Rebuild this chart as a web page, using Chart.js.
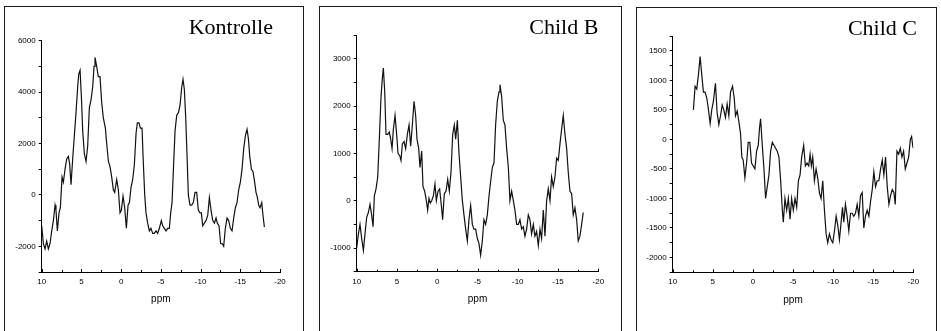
<!DOCTYPE html>
<html><head><meta charset="utf-8">
<script src="https://cdn.jsdelivr.net/npm/chart.js@4.4.0/dist/chart.umd.min.js"></script>
<style>
html,body{margin:0;padding:0;background:#fff;width:941px;height:331px;overflow:hidden;}
.panel{position:absolute;border:1px solid #1a1a1a;box-sizing:content-box;overflow:hidden;}
.panel canvas{position:absolute;left:0;top:0;}
</style></head><body>
<div class="panel" style="left:4px;top:6px;width:298px;height:340px"><canvas id="c1" width="298" height="324"></canvas></div>
<div class="panel" style="left:319px;top:6px;width:301px;height:340px"><canvas id="c2" width="301" height="324"></canvas></div>
<div class="panel" style="left:636px;top:7px;width:299px;height:340px"><canvas id="c3" width="299" height="324"></canvas></div>
<script>
// ---------- data ----------
const xTickLabels = [10, 5, 0, -5, -10, -15, -20];
const xAxisTitle = 'ppm';

const kontrolleTitle = 'Kontrolle';
const kontrolleYLabels = [6000, 4000, 2000, 0, -2000];
const kontrollePpm = [10.0, 9.79, 9.58, 9.37, 9.16, 8.95, 8.74, 8.53, 8.32, 8.2,
  8.03, 7.82, 7.65, 7.44, 7.27, 7.06, 6.85, 6.64, 6.48, 6.31,
  6.1, 5.89, 5.68, 5.47, 5.34, 5.17, 5.0, 4.84, 4.63, 4.42,
  4.21, 4.0, 3.79, 3.58, 3.41, 3.29, 3.08, 2.87, 2.66, 2.45,
  2.24, 1.98, 1.82, 1.6, 1.4, 1.19, 0.98, 0.81, 0.56, 0.35,
  0.14, -0.03, -0.24, -0.45, -0.66, -0.87, -1.04, -1.25, -1.46, -1.67,
  -1.88, -2.04, -2.25, -2.42, -2.63, -2.8, -2.97, -3.13, -3.34, -3.55,
  -3.76, -3.97, -4.18, -4.39, -4.6, -4.81, -5.06, -5.23, -5.44, -5.65,
  -5.86, -6.07, -6.24, -6.41, -6.58, -6.79, -7.0, -7.21, -7.42, -7.63,
  -7.79, -7.96, -8.13, -8.3, -8.46, -8.67, -8.88, -9.09, -9.3, -9.51,
  -9.72, -9.93, -10.1, -10.27, -10.48, -10.69, -10.9, -11.11, -11.32, -11.53,
  -11.74, -11.95, -12.11, -12.32, -12.53, -12.74, -12.91, -13.12, -13.33, -13.54,
  -13.75, -13.96, -14.17, -14.38, -14.59, -14.8, -15.01, -15.22, -15.43, -15.64,
  -15.85, -16.02, -16.19, -16.4, -16.6, -16.81, -16.98, -17.15, -17.32, -17.49,
  -17.7, -17.86, -18.03];
const kontrolleValues = [-1200, -1900, -2100, -1800, -2100, -1900, -1400, -1000, -400, -600,
  -1400, -700, -500, 700, 500, 1000, 1400, 1500, 1200, 400,
  1400, 2300, 3200, 4200, 4700, 4850, 3800, 2500, 1600, 1300,
  1900, 3400, 3700, 4200, 5000, 5350, 5000, 4600, 4600, 3600,
  3000, 2600, 2000, 1300, 1100, 700, 200, 100, 600, 200,
  -700, -600, -50, -500, -1300, -400, -300, 300, 600, 1200,
  2400, 2800, 2800, 2600, 2600, 1200, 0, -700, -1100, -1400,
  -1300, -1500, -1500, -1400, -1500, -1300, -1000, -1200, -1300, -1400,
  -1300, -1300, -700, -300, 1000, 2500, 3100, 3200, 3500, 4200,
  4500, 4100, 3000, 1500, 0, -400, -400, -300, 100, 100,
  -600, -700, -700, -1200, -1100, -1000, -800, -100, -600, -1000,
  -1100, -900, -1100, -1200, -1900, -1900, -2000, -1300, -900, -1000,
  -1300, -1400, -900, -500, -300, 200, 500, 1000, 1800, 2300,
  2550, 2200, 1500, 1000, 900, 500, 100, -100, -400, -500,
  -300, -800, -1250];

const childBTitle = 'Child B';
const childBYLabels = [3000, 2000, 1000, 0, -1000];
const childBPpm = [10, 9.79, 9.59, 9.38, 9.17, 8.97, 8.76, 8.55, 8.35, 8.14,
  7.97, 7.81, 7.6, 7.39, 7.19, 6.98, 6.81, 6.69, 6.52, 6.36,
  6.15, 5.95, 5.78, 5.61, 5.45, 5.24, 5.04, 4.87, 4.66, 4.5,
  4.33, 4.12, 3.92, 3.71, 3.5, 3.3, 3.09, 2.88, 2.68, 2.51,
  2.3, 2.14, 1.93, 1.77, 1.56, 1.35, 1.19, 1.02, 0.86, 0.69,
  0.48, 0.28, 0.11, -0.1, -0.3, -0.51, -0.67, -0.88, -1.09, -1.3,
  -1.5, -1.71, -1.92, -2.12, -2.29, -2.5, -2.7, -2.91, -3.12, -3.32,
  -3.53, -3.74, -3.94, -4.15, -4.36, -4.56, -4.77, -4.98, -5.18, -5.39,
  -5.6, -5.8, -6.01, -6.22, -6.43, -6.63, -6.84, -7.05, -7.25, -7.46,
  -7.67, -7.79, -8.0, -8.2, -8.41, -8.62, -8.83, -9.03, -9.24, -9.45,
  -9.65, -9.86, -10.07, -10.27, -10.48, -10.69, -10.89, -11.1, -11.31, -11.51,
  -11.72, -11.93, -12.13, -12.34, -12.55, -12.76, -12.96, -13.17, -13.38, -13.58,
  -13.79, -14.0, -14.2, -14.41, -14.62, -14.82, -15.03, -15.24, -15.44, -15.65,
  -15.86, -16.07, -16.27, -16.48, -16.69, -16.89, -17.1, -17.31, -17.51, -17.72,
  -17.93, -18.13];
const childBValues = [-1000, -700, -500, -800, -1050, -700, -350, -250, -80, -300,
  -550, 100, 250, 500, 1300, 2200, 2600, 2800, 2300, 1400,
  1400, 1450, 1300, 1100, 1500, 1800, 1400, 1000, 950, 850,
  1200, 1250, 1100, 1400, 1600, 1150, 1600, 2100, 1800, 1300,
  1100, 700, 1050, 300, 200, 0, -200, 50, -50, 0,
  100, 350, 0, 200, 250, -100, -400, 150, 200, 450,
  200, 600, 1400, 1600, 1300, 1700, 1000, 500, 0, -300,
  -600, -850, -400, -100, -500, -600, -600, -800, -900, -1150,
  -850, -400, -500, -300, 100, 400, 700, 800, 1600, 2100,
  2300, 2450, 2200, 1700, 1600, 1100, 700, 0, 200, 0,
  -200, -500, -500, -400, -600, -550, -750, -600, -300, -400,
  -700, -500, -750, -650, -950, -600, -800, -200, -750, 0,
  250, 0, 500, 300, 500, 900, 850, 1200, 1500, 1800,
  1400, 1100, 600, 200, 150, -300, -150, -400, -850, -750,
  -500, -250];

const childCTitle = 'Child C';
const childCYLabels = [1500, 1000, 500, 0, -500, -1000, -1500, -2000];
const childCPpm = [7.42, 7.21, 7.0, 6.79, 6.58, 6.38, 6.17, 5.96, 5.75, 5.54,
  5.33, 5.13, 4.92, 4.67, 4.46, 4.25, 4.04, 3.83, 3.63, 3.42,
  3.21, 3.0, 2.79, 2.54, 2.33, 2.17, 1.96, 1.75, 1.54, 1.38,
  1.21, 1.0, 0.79, 0.58, 0.38, 0.17, -0.04, -0.25, -0.46, -0.67,
  -0.83, -0.96, -1.17, -1.38, -1.58, -1.79, -2.0, -2.21, -2.42, -2.63,
  -2.83, -3.04, -3.25, -3.46, -3.67, -3.79, -4.0, -4.21, -4.42, -4.63,
  -4.83, -5.04, -5.25, -5.46, -5.67, -5.88, -6.08, -6.33, -6.54, -6.75,
  -6.96, -7.13, -7.29, -7.46, -7.67, -7.88, -8.08, -8.29, -8.5, -8.71,
  -8.92, -9.13, -9.33, -9.54, -9.75, -9.96, -10.17, -10.38, -10.58, -10.79,
  -11.0, -11.17, -11.33, -11.54, -11.75, -11.96, -12.17, -12.38, -12.58, -12.79,
  -13.0, -13.21, -13.42, -13.63, -13.83, -14.04, -14.25, -14.46, -14.67, -14.88,
  -15.08, -15.29, -15.5, -15.71, -15.92, -16.13, -16.33, -16.54, -16.75, -16.96,
  -17.17, -17.38, -17.58, -17.75, -17.96, -18.17, -18.38, -18.58, -18.79, -19.0,
  -19.21, -19.42, -19.63, -19.79, -19.92, -20.0];
const childCValues = [500, 900, 850, 1100, 1400, 1100, 800, 800, 700, 500,
  270, 500, 650, 950, 450, 250, 400, 580, 500, 370,
  600, 400, 800, 900, 700, 400, 480, 300, 100, -300,
  -350, -650, -400, -50, -50, -400, -450, -500, -200, -100,
  200, 350, -100, -500, -1000, -800, -600, -200, -50, -100,
  -150, -200, -300, -700, -1200, -1400, -1000, -1200, -1000, -1350,
  -1000, -1200, -1000, -1150, -700, -600, -300, -100, -450, -400,
  -450, -250, -450, -300, -700, -500, -650, -900, -1000, -700,
  -1200, -1600, -1750, -1600, -1700, -1750, -1550, -1300, -1450, -1700,
  -1400, -1150, -1400, -1100, -1300, -1550, -1250, -1250, -1300, -1250,
  -1100, -1300, -950, -900, -1500, -1300, -1200, -1300, -1050, -850,
  -550, -800, -700, -700, -500, -350, -600, -300, -800, -1100,
  -950, -850, -900, -1100, -200, -250, -150, -300, -200, -500,
  -400, -300, 0, 50, -100, -150];

// ---------- drawing ----------
const SANS = "'Liberation Sans', Arial, sans-serif";
const SERIF = "'Liberation Serif', 'Times New Roman', serif";

const inwardTicks = {
  id: 'inwardTicks',
  afterDraw(chart) {
    const sx = chart.scales.x, ctx = chart.ctx;
    const yAxis = chart.chartArea.bottom;
    ctx.save();
    ctx.strokeStyle = '#000';
    ctx.lineWidth = 1;
    sx.ticks.forEach(t => {
      const px = Math.round(sx.getPixelForValue(t.value)) + 0.5;
      const len = xTickLabels.includes(t.value) ? 3 : 2;
      ctx.beginPath();
      ctx.moveTo(px, yAxis);
      ctx.lineTo(px, yAxis - len);
      ctx.stroke();
    });
    ctx.restore();
  }
};
const titleShift = {
  id: 'titleShift',
  afterLayout(chart, args, opts) {
    if (chart.titleBlock) {
      chart.titleBlock.left += opts.shift || 0;
      chart.titleBlock.right += opts.shift || 0;
    }
  }
};

function makePanel(id, ppm, values, title, yRange, yLabels, geo) {
  const canvas = document.getElementById(id);
  const H = canvas.height;
  new Chart(canvas, {
    type: 'line',
    data: {
      datasets: [{
        data: ppm.map((p, i) => ({ x: p, y: values[i] })),
        borderColor: '#111',
        borderWidth: 1.2,
        pointRadius: 0,
        tension: 0,
        fill: false
      }]
    },
    options: {
      responsive: false,
      animation: false,
      events: [],
      layout: { padding: { left: 0, right: geo.padRight, top: 0, bottom: 0 } },
      plugins: {
        legend: { display: false },
        tooltip: { enabled: false },
        title: {
          display: true, text: title, align: 'end', fullSize: false, color: '#000',
          font: { family: SERIF, size: 22, weight: 'normal', lineHeight: 0.5 },
          padding: { top: geo.titleTop, bottom: geo.titleBottom }
        },
        titleShift: { shift: geo.titleShift }
      },
      scales: {
        x: {
          type: 'linear', min: -20, max: 10, reverse: true,
          afterFit: s => { s.height = H - geo.bottom; },
          grid: { display: true, drawOnChartArea: false, drawTicks: false },
          border: { display: true, color: '#000', width: 1 },
          ticks: {
            stepSize: 2.5, autoSkip: false, maxRotation: 0, padding: 5, color: '#000',
            font: { family: SANS, size: 8 },
            callback: v => xTickLabels.includes(v) ? String(v) : ''
          },
          title: {
            display: true, text: xAxisTitle, color: '#000',
            font: { family: SANS, size: 10 }, padding: { top: 0, bottom: geo.xTitleBottom }
          }
        },
        y: {
          type: 'linear', min: yRange[0], max: yRange[1],
          afterFit: s => { s.width = geo.left; },
          grid: { display: true, drawOnChartArea: false, drawTicks: true, tickLength: 3, color: '#000' },
          border: { display: true, color: '#000', width: 1 },
          ticks: {
            stepSize: yRange[2], autoSkip: false, padding: 3, color: '#000',
            font: { family: SANS, size: 8 },
            callback: v => yLabels.includes(v) ? String(v) : ''
          }
        }
      }
    },
    plugins: [inwardTicks, titleShift]
  });
}

makePanel('c1', kontrollePpm, kontrolleValues, kontrolleTitle, [-3000, 6000, 1000], kontrolleYLabels,
  { left: 36.7, padRight: 23, bottom: 265, titleTop: 15.8, titleBottom: 6.9, titleShift: -7, xTitleBottom: 26 });
makePanel('c2', childBPpm, childBValues, childBTitle, [-1500, 3500, 500], childBYLabels,
  { left: 36.7, padRight: 22.7, bottom: 264.7, titleTop: 15.5, titleBottom: 1.5, titleShift: 0, xTitleBottom: 26 });
makePanel('c3', childCPpm, childCValues, childCTitle, [-2250, 1750, 250], childCYLabels,
  { left: 35.7, padRight: 22.7, bottom: 264.3, titleTop: 15.5, titleBottom: 1.5, titleShift: 3.7, xTitleBottom: 26 });
</script>
</body></html>
